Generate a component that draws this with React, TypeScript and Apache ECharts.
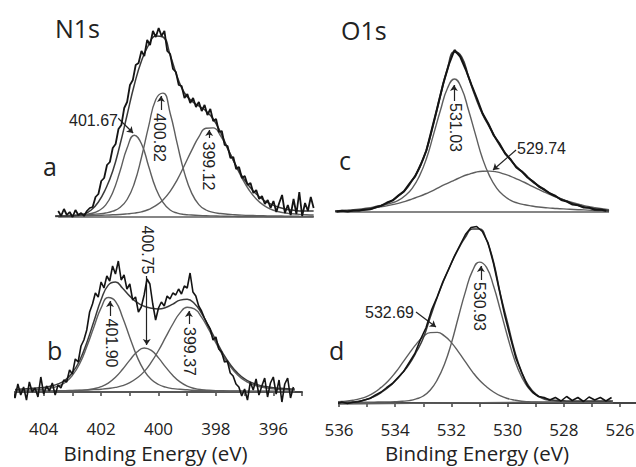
import React, { useEffect, useRef } from 'react';
import * as echarts from 'echarts';

// ---------- tick labels ----------
const N_TICKS = [404, 402, 400, 398, 396];
const O_TICKS = [536, 534, 532, 530, 528, 526];

// ---------- Panel a : N1s ----------
const A_DATA_START = 404.4;
const A_DATA_STEP = 0.1;
const aData = [
  6, 1, 8, 2, 5, 0, 7, 2, 4, 1,
  6, 9, 10, 20, 23, 36, 39, 52, 55, 69,
  73, 88, 92, 109, 115, 132, 137, 152, 154, 166,
  161, 177, 172, 186, 180, 189, 181, 186, 166, 163,
  148, 145, 132, 131, 119, 123, 114, 119, 110, 115,
  106, 112, 102, 108, 96, 98, 85, 86, 72, 71,
  59, 60, 48, 50, 39, 41, 32, 34, 24, 27,
  18, 21, 13, 17, 9, 16, 5, 14, 22, 4,
  12, 2, 18, 3, 25, 1, 14, 6, 20, 9,
];
const A_FIT_START = 404.5;
const A_FIT_STEP = 0.25;
const aPeak40167 = [
  1.0, 1.2, 1.5, 1.9, 2.4, 3.5, 6.1, 11.9, 24.6, 45.5,
  68.9, 81.8, 73.2, 50.8, 28.7, 14.6, 7.0, 3.9, 2.5, 2.0,
  1.6, 1.3, 1.1, 0.9, 0.75, 0.6, 0.5, 0.45, 0.4, 0.35,
  0.3, 0.3, 0.25, 0.2, 0.2, 0.2, 0.2,
];
const aPeak40082 = [
  1.1, 1.3, 1.5, 1.8, 2.1, 2.5, 3.1, 4.0, 5.8, 9.5,
  17.5, 33.5, 59.5, 90.6, 117.5, 123.9, 103.8, 72.8, 43.9, 23.9,
  12.4, 7.0, 4.6, 3.5, 2.8, 2.3, 1.9, 1.6, 1.4, 1.2,
  1.1, 1.0, 0.9, 0.8, 0.7, 0.65, 0.6,
];
const aPeak39912 = [
  0.9, 1.0, 1.1, 1.2, 1.3, 1.5, 1.7, 1.9, 2.2, 2.5,
  3.1, 3.9, 5.1, 7.5, 11.3, 17.1, 25.7, 37.4, 51.8, 66.6,
  80.1, 88.7, 89.1, 81.5, 68.4, 53.6, 39.2, 27.0, 18.0, 11.9,
  7.9, 5.5, 4.0, 3.2, 2.6, 2.2, 2.0,
];
const aEnvelope = [
  0.5, 0.7, 1, 1.5, 3, 7, 15, 28, 46, 72,
  102, 132, 156, 172, 181, 180, 162, 140, 124, 116,
  111, 106, 98, 85, 69, 54, 41, 31, 23, 17,
  13, 10, 8, 7, 6, 6, 6,
];
const aBaselineE = [404.4, 395.5];
const aBaselineY = [0, 0];

// ---------- Panel b : N1s ----------
const B_DATA_START = 405.1;
const B_DATA_STEP = 0.1;
const bData = [
  3, -6, 8, -3, 5, -8, 10, 0, 4, -5,
  15, -2, 6, 1, 9, -3, 7, 4, 12, 10,
  22, 18, 33, 30, 46, 52, 62, 80, 88, 99,
  95, 110, 104, 116, 111, 126, 118, 131, 112, 117,
  103, 108, 92, 95, 80, 85, 97, 113, 108, 88,
  72, 84, 90, 86, 96, 93, 99, 97, 103, 98,
  106, 104, 119, 100, 96, 86, 81, 74, 68, 63,
  52, 55, 43, 40, 30, 31, 19, 16, 8, 5,
  -4, 3, -8, 10, 2, 13, -3, 6, 14, -5,
  9, 15, -2, 12, -10, 8, 14, -6, 5,
];
const B_FIT_START = 405.0;
const B_FIT_STEP = 0.25;
const bPeak40190 = [
  1.5, 1.7, 2.1, 2.5, 2.9, 4.1, 5.9, 9.5, 16.6, 28.0,
  45.2, 65.1, 84.1, 94.5, 90.7, 74.6, 54.6, 35.6, 21.4, 12.4,
  7.5, 4.8, 3.4, 2.7, 2.2, 1.8, 1.6, 1.4, 1.3, 1.2,
  1.1, 1.0, 0.9, 0.85, 0.8, 0.75, 0.7, 0.65, 0.6, 0.55,
];
const bPeak40075 = [
  0.4, 0.45, 0.5, 0.6, 0.65, 0.75, 0.9, 1.0, 1.2, 1.5,
  2.1, 3.3, 5.3, 8.9, 14.7, 22.7, 31.9, 40.0, 44.0, 41.6,
  34.1, 24.9, 16.5, 10.1, 5.9, 3.6, 2.3, 1.7, 1.3, 1.1,
  0.9, 0.8, 0.7, 0.6, 0.55, 0.5, 0.45, 0.4, 0.4, 0.35,
];
const bPeak39937 = [
  0.7, 0.8, 0.85, 0.9, 1.0, 1.1, 1.3, 1.4, 1.6, 1.8,
  2.0, 2.4, 2.8, 3.5, 4.6, 6.4, 9.4, 14.0, 20.4, 29.8,
  41.5, 54.8, 68.0, 79.1, 84.7, 83.1, 74.8, 62.5, 49.1, 36.1,
  25.5, 17.3, 11.5, 7.9, 5.5, 4.1, 3.1, 2.6, 2.2, 2.0,
];
const bEnvelope = [
  2.6, 3.0, 3.5, 4.0, 4.6, 6.0, 8.1, 11.9, 19.4, 31.3,
  49.3, 70.8, 92.2, 106.9, 110.0, 103.7, 95.9, 89.6, 85.8, 83.8,
  83.1, 84.5, 87.9, 91.9, 92.8, 88.5, 78.7, 65.6, 51.7, 38.4,
  27.5, 19.1, 13.1, 9.35, 6.85, 5.35, 4.25, 3.65, 3.2, 2.9,
];
const bBaselineE = [405.1, 395.3];
const bBaselineY = [0, 0];

// ---------- Panel c : O1s ----------
const C_DATA_START = 535.2;
const C_DATA_STEP = 0.2;
const cData = [
  0.5, 1.2, 0.6, 1.6, 1.4, 2.4, 2.8, 4.9, 6.3, 9.5,
  11.6, 16.5, 20.6, 28.5, 35.6, 47.5, 61.5, 83.5, 105.5, 128.5,
  147.5, 162, 155.5, 142.5, 127.5, 113.5, 98.5, 88.5, 76.5, 68.5,
  58.5, 52.5, 44.5, 40.5, 34.5, 30.5, 25.5, 22.5, 18.5, 16,
  12, 10.5, 7.5, 6.8, 4.5, 4.3, 2.3, 2.5, 1.2,
];
const C_FIT_START = 535.25;
const C_FIT_STEP = 0.25;
const cPeak53103 = [
  1.0, 1.5, 2.0, 2.6, 3.4, 4.3, 6.0, 7.2, 8.9, 11.6,
  16.5, 23.9, 35.9, 53.2, 77.1, 101.7, 123.7, 133, 123.7, 101.7,
  77.1, 53.2, 35.9, 23.9, 16.5, 11.6, 8.9, 7.2, 6.0, 5.0,
  4.3, 3.7, 3.3, 2.9, 2.5, 2.2, 1.9, 1.5, 1.2, 1.0,
];
const cPeak52974 = [
  0.6, 0.9, 1.3, 1.8, 2.4, 3.2, 4.6, 5.7, 7.1, 8.6,
  10.7, 13.1, 15.6, 18.5, 21.7, 25.4, 28.7, 31.9, 35.1, 37.7,
  39.8, 40.8, 40.9, 40.1, 38.1, 35.7, 32.6, 29.5, 25.9, 22.6,
  19.3, 16.2, 13.5, 11.1, 9.0, 7.2, 5.6, 4.3, 3.2, 2.3,
];
const cEnvelope = [
  0.5, 0.8, 1.1, 1.4, 1.9, 3, 4.8, 7.5, 11, 16,
  22, 32, 44, 62, 88, 117, 143, 160, 155, 135,
  115, 98, 85, 72, 61, 52, 44, 38, 31, 26,
  21, 17, 13.5, 10.5, 8, 6, 4.3, 3, 2, 1.2,
];
const cBaselineE = [535.2, 525.5];
const cBaselineY = [0, 0];

// ---------- Panel d : O1s ----------
const D_DATA_START = 536.3;
const D_DATA_STEP = 0.2;
const dData = [
  0.5, -0.8, 1.0, -0.5, 0.8, 1.2, 3.0, 4.5, 8.0, 11.0,
  15.5, 19.5, 25.5, 31.5, 40.5, 49.5, 63.5, 75.5, 93.5, 106.5,
  121.5, 133.5, 146.5, 157.5, 168.5, 175.5, 176.5, 171.5, 160.5, 139.5,
  113.5, 87.5, 65.5, 44.5, 30.5, 17.5, 10.5, 6.5, 5.5, 3,
  5.5, 2, 6.5, 2.5, 5.5, 1.5, 6, 3, 5.5, 2, 5.5,
];
const D_FIT_START = 536.25;
const D_FIT_STEP = 0.25;
const dPeak53269 = [
  0.9, 1.3, 1.8, 2.8, 4.3, 6.7, 10.3, 15.6, 22.0, 30.2,
  39.8, 49.7, 58.9, 66.4, 70.4, 70.6, 67.1, 60.4, 51.1, 41.2,
  31.2, 22.7, 16.3, 11.0, 7.1, 4.5, 2.9, 1.8, 1.3, 1.0,
  0.8, 0.7, 0.6, 0.5, 0.5, 0.4, 0.4, 0.35, 0.3, 0.3, 0.3,
];
const dPeak53093 = [
  0.4, 0.4, 0.5, 0.6, 0.7, 0.8, 0.85, 1.0, 1.1, 1.3,
  1.7, 2.4, 4.1, 7.0, 13.0, 23.3, 38.5, 59.9, 86.0, 111.4,
  132.1, 140.9, 135.6, 117.0, 92.1, 66.3, 43.0, 26.1, 14.8, 8.2,
  4.5, 2.7, 1.8, 1.4, 1.2, 1.0, 0.9, 0.8, 0.7, 0.6, 0.6,
];
const dEnvelope = [
  0, 0.3, 0.6, 1, 2, 3.8, 6.5, 10.5, 15.5, 22,
  30, 39, 51, 65, 86, 106, 124, 140, 154, 166,
  174, 174, 163, 141, 108, 80, 52, 31, 17, 9,
  5, 3.5, 2.5, 2.2, 2, 2, 2, 2, 2, 2, 2,
];
const dBaselineE = [536.3, 526.3];
const dBaselineY = [-1, 1.5];

// ---------- peak annotation arrows (data coords: [E, intensity] -> [E, intensity]) ----------
const aArrows = [
  [[402.31, 98.7], [401.79, 84]],
  [[400.82, 107], [400.82, 121]],
  [[399.14, 79], [399.14, 87]],
];
const bArrows = [
  [[400.41, 116], [400.41, 47]],
  [[401.69, 76], [401.69, 91]],
  [[398.94, 68], [398.94, 81]],
];
const cArrows = [
  [[531.02, 111], [531.02, 127]],
  [[528.81, 62], [529.63, 42]],
];
const dArrows = [
  [[533.26, 91], [532.55, 76]],
  [[530.95, 123], [530.95, 137]],
];

const FONT = 'Open Sans';
const ANNO_FONT = 'Liberation Sans';

function seq(start: number, step: number, ys: number[]) {
  return ys.map((y, i) => [Number((start - i * step).toFixed(3)), y]);
}
function pairs(xs: number[], ys: number[]) {
  return xs.map((x, i) => [x, ys[i]]);
}

function dataLine(idx: number, start: number, step: number, ys: number[], width = 1.6) {
  return {
    type: 'line', xAxisIndex: idx, yAxisIndex: idx, data: seq(start, step, ys),
    showSymbol: false, symbol: 'none', smooth: false, clip: false, silent: true, z: 5,
    lineStyle: { color: '#141414', width },
  };
}
function fitLine(idx: number, start: number, step: number, ys: number[], color = '#5e5e5e', width = 1.4, z = 3) {
  return {
    type: 'line', xAxisIndex: idx, yAxisIndex: idx, data: seq(start, step, ys),
    showSymbol: false, symbol: 'none', smooth: true, clip: false, silent: true, z,
    lineStyle: { color, width },
  };
}
function baseLine(idx: number, xs: number[], ys: number[], arrows: number[][][]) {
  return {
    type: 'line', xAxisIndex: idx, yAxisIndex: idx, data: pairs(xs, ys),
    showSymbol: false, symbol: 'none', clip: false, silent: true, z: 2,
    lineStyle: { color: '#5e5e5e', width: 1.4 },
    markLine: {
      silent: true, animation: false,
      symbol: ['none', 'arrow'], symbolSize: 6,
      label: { show: false },
      lineStyle: { color: '#222', width: 1.2, type: 'solid' },
      emphasis: { disabled: true },
      data: arrows.map((a) => [{ coord: a[0] }, { coord: a[1] }]),
    },
  };
}

function hiddenX(idx: number, min: number, max: number) {
  return { gridIndex: idx, type: 'value', min, max, inverse: true, show: false };
}
function shownX(idx: number, min: number, max: number, ticks: number[], shift: number, gap: number, margin: number) {
  return {
    gridIndex: idx, type: 'value', min, max, inverse: true, interval: 1,
    axisLine: { show: true, lineStyle: { color: '#444', width: 2 } },
    axisTick: { show: true, length: 4, lineStyle: { color: '#444', width: 1.5 } },
    axisLabel: {
      formatter: (v: number) => (ticks.includes(v) ? String(v) : ''),
      fontSize: 17, lineHeight: 17, fontFamily: FONT, color: '#222', margin,
      showMinLabel: true, showMaxLabel: true, hideOverlap: false,
    },
    splitLine: { show: false },
    name: 'Binding Energy (eV)', nameLocation: 'middle', nameGap: gap,
    nameTextStyle: {
      fontSize: 20.5, lineHeight: 20, fontFamily: FONT, color: '#222',
      padding: [0, shift, 0, 0],
    },
  };
}
function yAx(idx: number, min: number, max: number) {
  return { gridIndex: idx, type: 'value', min, max, show: false };
}

function txt(text: string, x: number, y: number, size: number, opts: any = {}) {
  return {
    type: 'text', x, y, rotation: opts.rotation || 0, silent: true,
    style: {
      text, fontSize: size, fontFamily: opts.family || FONT, fill: '#222',
      align: opts.align || 'left', verticalAlign: 'middle',
    },
  };
}

const gridBase = { outerBoundsMode: 'none', containLabel: false };

export default function App() {
  const ref = useRef<HTMLDivElement>(null);
  useEffect(() => {
    if (!ref.current) return;
    const chart = echarts.init(ref.current, undefined, { renderer: 'svg' });
    const V = -Math.PI / 2;
    const option: any = {
      animation: false,
      backgroundColor: '#ffffff',
      grid: [
        { ...gridBase, left: 41, top: 17, width: 287, height: 200 },
        { ...gridBase, left: 15, top: 222, width: 287, height: 194 },
        { ...gridBase, left: 314, top: 12, width: 309.1, height: 200 },
        { ...gridBase, left: 339, top: 218, width: 309.1, height: 200 },
      ],
      xAxis: [
        hiddenX(0, 395, 405),
        shownX(1, 395, 405, N_TICKS, 6, 27, 4),
        hiddenX(2, 525, 536),
        shownX(3, 525, 536, O_TICKS, 33, 25, 3),
      ],
      yAxis: [yAx(0, 0, 200), yAx(1, -24, 170), yAx(2, 0, 200), yAx(3, -15, 185)],
      series: [
        baseLine(0, aBaselineE, aBaselineY, aArrows),
        fitLine(0, A_FIT_START, A_FIT_STEP, aPeak40167),
        fitLine(0, A_FIT_START, A_FIT_STEP, aPeak40082),
        fitLine(0, A_FIT_START, A_FIT_STEP, aPeak39912),
        fitLine(0, A_FIT_START, A_FIT_STEP, aEnvelope, '#3a3a3a', 1.5, 4),
        dataLine(0, A_DATA_START, A_DATA_STEP, aData, 1.8),

        baseLine(1, bBaselineE, bBaselineY, bArrows),
        fitLine(1, B_FIT_START, B_FIT_STEP, bPeak40190),
        fitLine(1, B_FIT_START, B_FIT_STEP, bPeak40075),
        fitLine(1, B_FIT_START, B_FIT_STEP, bPeak39937),
        fitLine(1, B_FIT_START, B_FIT_STEP, bEnvelope, '#3a3a3a', 1.5, 4),
        dataLine(1, B_DATA_START, B_DATA_STEP, bData, 1.6),

        baseLine(2, cBaselineE, cBaselineY, cArrows),
        fitLine(2, C_FIT_START, C_FIT_STEP, cPeak53103),
        fitLine(2, C_FIT_START, C_FIT_STEP, cPeak52974),
        fitLine(2, C_FIT_START, C_FIT_STEP, cEnvelope, '#3a3a3a', 1.8, 4),
        dataLine(2, C_DATA_START, C_DATA_STEP, cData, 2.0),

        baseLine(3, dBaselineE, dBaselineY, dArrows),
        fitLine(3, D_FIT_START, D_FIT_STEP, dPeak53269),
        fitLine(3, D_FIT_START, D_FIT_STEP, dPeak53093),
        fitLine(3, D_FIT_START, D_FIT_STEP, dEnvelope, '#3a3a3a', 1.5, 4),
        dataLine(3, D_DATA_START, D_DATA_STEP, dData, 1.6),
      ],
      graphic: [
        txt('N1s', 55, 28, 25),
        txt('O1s', 341, 29.5, 25),
        txt('a', 43, 166, 25),
        txt('b', 47, 350, 25),
        txt('c', 339, 160, 25),
        txt('d', 329, 350, 25),
        txt('401.67', 118, 120, 16, { align: 'right', family: ANNO_FONT }),
        txt('400.82', 159, 137.5, 16, { align: 'center', rotation: V, family: ANNO_FONT }),
        txt('399.12', 208.5, 166, 16, { align: 'center', rotation: V, family: ANNO_FONT }),
        txt('400.75', 147.5, 250, 16, { align: 'center', rotation: V, family: ANNO_FONT }),
        txt('401.90', 111.5, 343, 16, { align: 'center', rotation: V, family: ANNO_FONT }),
        txt('399.37', 189, 351.5, 16, { align: 'center', rotation: V, family: ANNO_FONT }),
        txt('531.03', 455, 127.5, 16, { align: 'center', rotation: V, family: ANNO_FONT }),
        txt('529.74', 517, 148.5, 16, { align: 'left', family: ANNO_FONT }),
        txt('532.69', 414, 312, 16, { align: 'right', family: ANNO_FONT }),
        txt('530.93', 479.5, 306.5, 16, { align: 'center', rotation: V, family: ANNO_FONT }),
      ],
    };
    chart.setOption(option);
    return () => chart.dispose();
  }, []);
  return (
    <div
      ref={ref}
      style={{ position: 'fixed', left: 0, top: 0, width: 636, height: 467, background: '#fff' }}
    />
  );
}
